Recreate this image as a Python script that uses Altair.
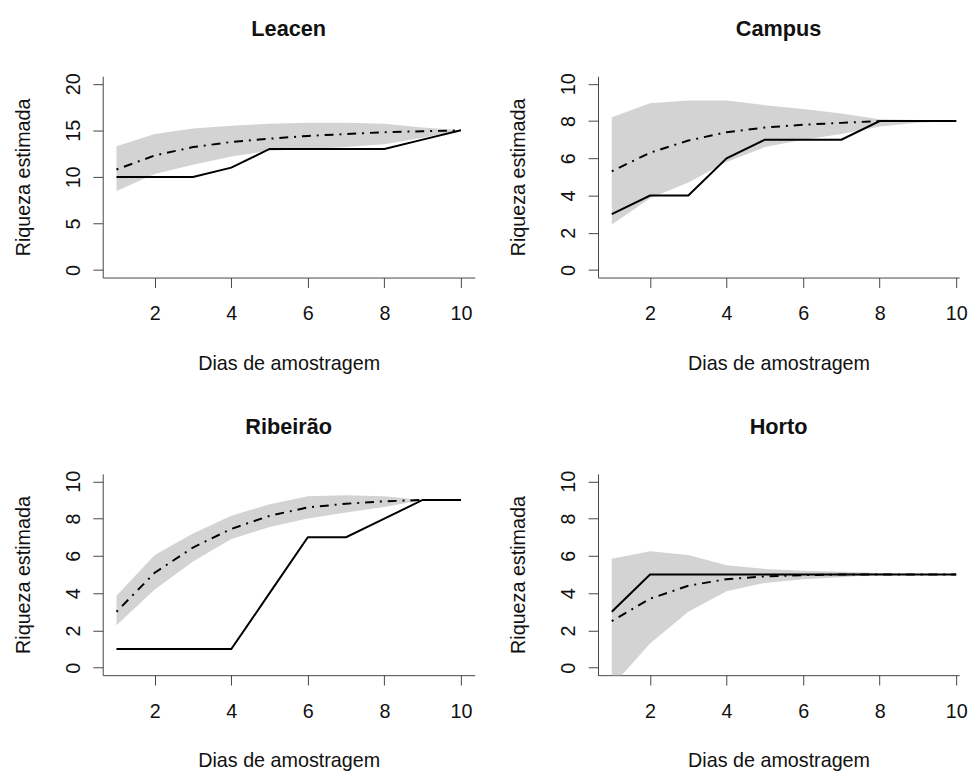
import altair as alt
import pandas as pd

dias = [1, 2, 3, 4, 5, 6, 7, 8, 9, 10]
x_ticks = [2, 4, 6, 8, 10]

# Leacen
leacen_obs = [10, 10, 10, 11, 13, 13, 13, 13, 14, 15]
leacen_est = [10.8, 12.3, 13.2, 13.75, 14.1, 14.4, 14.6, 14.8, 14.9, 15.0]
leacen_upper = [13.3, 14.6, 15.2, 15.5, 15.7, 15.8, 15.8, 15.7, 15.3, 15.0]
leacen_lower = [8.5, 10.3, 11.3, 12.2, 12.8, 13.0, 13.2, 13.5, 14.2, 15.0]

# Campus
campus_obs = [3, 4, 4, 6, 7, 7, 7, 8, 8, 8]
campus_est = [5.3, 6.3, 6.95, 7.4, 7.65, 7.8, 7.9, 8.0, 8.0, 8.0]
campus_upper = [8.2, 8.95, 9.1, 9.1, 8.85, 8.65, 8.4, 8.1, 8.05, 8.0]
campus_lower = [2.45, 3.85, 4.7, 5.8, 6.6, 7.0, 7.3, 7.7, 7.9, 8.0]

# Ribeirão
ribeirao_obs = [1, 1, 1, 1, 4, 7, 7, 8, 9, 9]
ribeirao_est = [3.0, 5.1, 6.45, 7.45, 8.15, 8.6, 8.8, 8.93, 9.0, 9.0]
ribeirao_upper = [3.86, 6.05, 7.2, 8.15, 8.77, 9.2, 9.26, 9.2, 9.0, 9.0]
ribeirao_lower = [2.28, 4.2, 5.7, 6.9, 7.55, 8.0, 8.33, 8.63, 9.0, 9.0]

# Horto
horto_obs = [3, 5, 5, 5, 5, 5, 5, 5, 5, 5]
horto_est = [2.5, 3.7, 4.4, 4.75, 4.9, 4.97, 5.0, 5.0, 5.0, 5.0]
horto_upper = [5.85, 6.25, 6.05, 5.5, 5.3, 5.2, 5.15, 5.08, 5.0, 5.0]
horto_lower = [-1.0, 1.3, 3.0, 4.1, 4.55, 4.75, 4.85, 5.0, 5.0, 5.0]

FONT = "Liberation Sans"
PX_PER_DAY = 377 / 9.72


def panel(name, obs, est, lo, hi, ymax, ystep, width):
    df = pd.DataFrame({"dia": dias, "obs": obs, "est": est, "lo": lo, "hi": hi})
    xmax = 0.64 + width / PX_PER_DAY
    x = alt.X("dia:Q",
              scale=alt.Scale(domain=[0.64, xmax], nice=False, zero=False),
              axis=alt.Axis(values=x_ticks, title="Dias de amostragem", format="d"))
    yscale = alt.Scale(domain=[-0.04 * ymax, 1.04 * ymax], nice=False, zero=False)
    yaxis = alt.Axis(values=list(range(0, ymax + 1, ystep)), title="Riqueza estimada", format="d")
    base = alt.Chart(df)
    band = base.mark_area(color="#D3D3D3", clip=True).encode(
        x=x, y=alt.Y("lo:Q", scale=yscale, axis=yaxis), y2="hi:Q")
    est_line = base.mark_line(color="black", strokeWidth=2, strokeDash=[2, 6, 9, 6], clip=True).encode(
        x=x, y=alt.Y("est:Q", scale=yscale, axis=yaxis))
    obs_line = base.mark_line(color="black", strokeWidth=2, clip=True).encode(
        x=x, y=alt.Y("obs:Q", scale=yscale, axis=yaxis))
    return alt.layer(band, est_line, obs_line).properties(
        width=width, height=204, title=alt.TitleParams(name))


p1 = panel("Leacen", leacen_obs, leacen_est, leacen_lower, leacen_upper, 20, 5, 377)
p2 = panel("Campus", campus_obs, campus_est, campus_lower, campus_upper, 10, 2, 366)
p3 = panel("Ribeirão", ribeirao_obs, ribeirao_est, ribeirao_lower, ribeirao_upper, 10, 2, 377)
p4 = panel("Horto", horto_obs, horto_est, horto_lower, horto_upper, 10, 2, 366)

chart = alt.vconcat(
    alt.hconcat(p1, p2, spacing=35),
    alt.hconcat(p3, p4, spacing=35),
    spacing=43,
).properties(
    padding={"left": 6, "top": 5, "right": 0, "bottom": 0}
).configure_view(
    stroke=None
).configure_axis(
    grid=False,
    domainColor="#444444",
    tickColor="#444444",
    domainWidth=1,
    tickWidth=1,
    tickSize=10,
    labelFont=FONT,
    labelFontSize=20,
    labelColor="#111111",
    labelOverlap=False,
    titleFont=FONT,
    titleFontSize=20,
    titleFontWeight="normal",
    titleColor="#111111",
).configure_axisY(
    labelAngle=270,
    labelAlign="center",
    labelBaseline="alphabetic",
    labelPadding=14,
    titleBaseline="alphabetic",
    titlePadding=34,
).configure_axisX(
    labelPadding=17,
    titlePadding=30,
).configure_title(
    font=FONT,
    fontSize=22,
    fontWeight="bold",
    color="#111111",
    anchor="middle",
    frame="group",
    baseline="alphabetic",
    offset=32,
)

chart.save("out.html", embed_options={"renderer": "svg", "actions": False})
